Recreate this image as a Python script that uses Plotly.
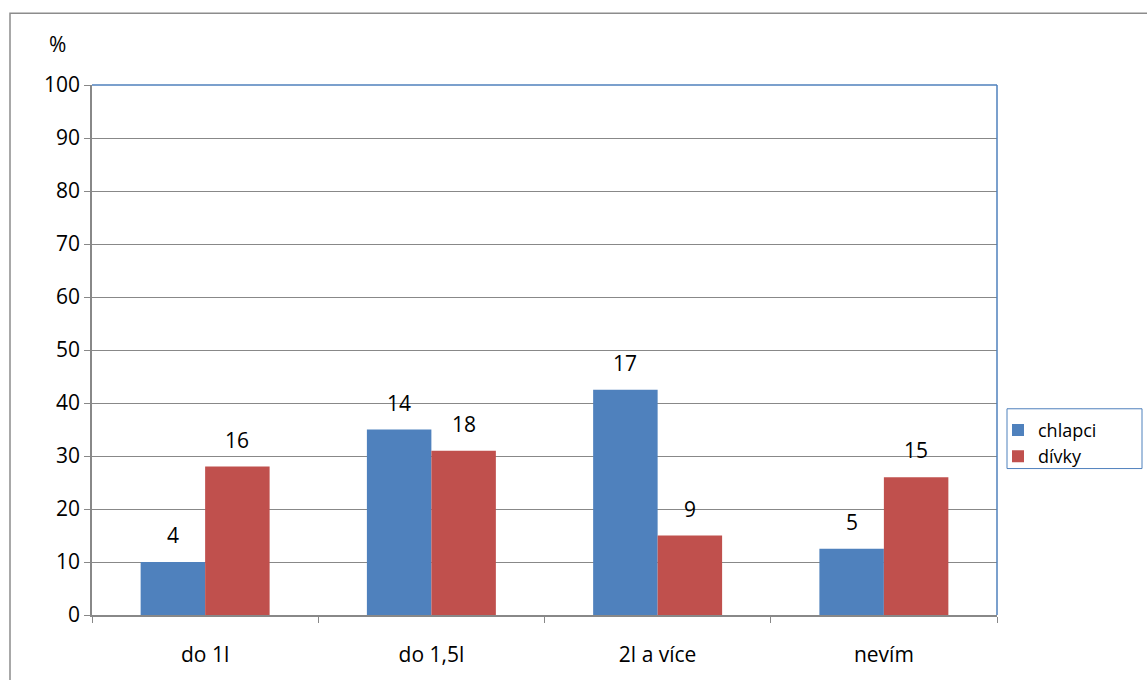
import plotly.graph_objects as go

# Data: shares in percent (bar heights) and respondent counts (labels)
categories = ["do 1l", "do 1,5l", "2l a více", "nevím"]
boys_pct = [10, 35, 42.5, 12.5]
girls_pct = [28, 31, 15, 26]
boys_n = [4, 14, 17, 5]
girls_n = [16, 18, 9, 15]
y_ticks = list(range(0, 101, 10))

BLUE = "#4F81BD"
RED = "#C0504D"
GRID = "#888888"
FONT = "Open Sans"
FS = 21

W, H = 1147, 680
ML, MR, MT, MB = 92, 150, 85, 63
PW, PH = W - ML - MR, H - MT - MB


def px_x(px):
    return (px - ML) / PW


def px_y(py):
    return (H - MB - py) / PH


fig = go.Figure()
fig.add_trace(go.Bar(name="chlapci", x=categories, y=boys_pct,
                     marker=dict(color=BLUE, line=dict(width=0))))
fig.add_trace(go.Bar(name="dívky", x=categories, y=girls_pct,
                     marker=dict(color=RED, line=dict(width=0))))

# Count labels above each bar
bar_half = PW / len(categories) * (1 - 0.43) / 4
for vals, counts, shift in ((boys_pct, boys_n, -bar_half), (girls_pct, girls_n, bar_half)):
    for c, v, n in zip(categories, vals, counts):
        fig.add_annotation(x=c, y=v, text=str(n), showarrow=False,
                           xshift=shift, yshift=27, yanchor="middle",
                           font=dict(family=FONT, size=FS, color="#000000"))

fig.add_annotation(x=px_x(57), y=px_y(44), xref="paper", yref="paper",
                   xanchor="center", yanchor="middle",
                   text="%", showarrow=False,
                   font=dict(family=FONT, size=FS, color="#000000"))

# Outer chart frame
fig.add_shape(type="rect", xref="paper", yref="paper",
              x0=px_x(10), x1=px_x(1160), y0=px_y(13), y1=px_y(700),
              line=dict(color="#8c8c8c", width=1.5), layer="below")
# Blue top and right edges of the plot area
fig.add_shape(type="line", xref="paper", yref="paper", x0=0, x1=1, y0=1, y1=1,
              line=dict(color=BLUE, width=1.5), layer="above")
fig.add_shape(type="line", xref="paper", yref="paper", x0=1, x1=1, y0=0, y1=1,
              line=dict(color=BLUE, width=1.5), layer="above")
# Legend frame
fig.add_shape(type="rect", xref="paper", yref="paper",
              x0=px_x(1007), x1=px_x(1142), y0=px_y(410), y1=px_y(470),
              line=dict(color=BLUE, width=1), layer="above")

fig.update_layout(
    width=W, height=H,
    margin=dict(l=ML, r=MR, t=MT, b=MB, pad=0),
    paper_bgcolor="white", plot_bgcolor="white",
    barmode="group", bargap=0.43, bargroupgap=0,
    font=dict(family=FONT, size=FS, color="#000000"),
    legend=dict(x=px_x(998), y=px_y(413), xanchor="left", yanchor="top",
                borderwidth=0, bgcolor="rgba(0,0,0,0)",
                font=dict(family=FONT, size=18, color="#000000"),
                itemwidth=30, tracegroupgap=0),
    showlegend=True,
)
fig.update_xaxes(
    type="category", showline=True, linecolor=GRID, linewidth=1.5,
    ticks="outside", tickson="boundaries", ticklen=6, tickcolor=GRID,
    showgrid=False, ticklabelstandoff=20,
    tickfont=dict(family=FONT, size=FS, color="#000000"),
)
fig.update_yaxes(
    range=[0, 100], tickvals=y_ticks, showline=True, linecolor=GRID, linewidth=1.5,
    ticks="outside", ticklen=6, tickcolor=GRID,
    showgrid=True, gridcolor=GRID, gridwidth=1, zeroline=False,
    tickfont=dict(family=FONT, size=FS, color="#000000"),
)

fig.write_html("out.html")
